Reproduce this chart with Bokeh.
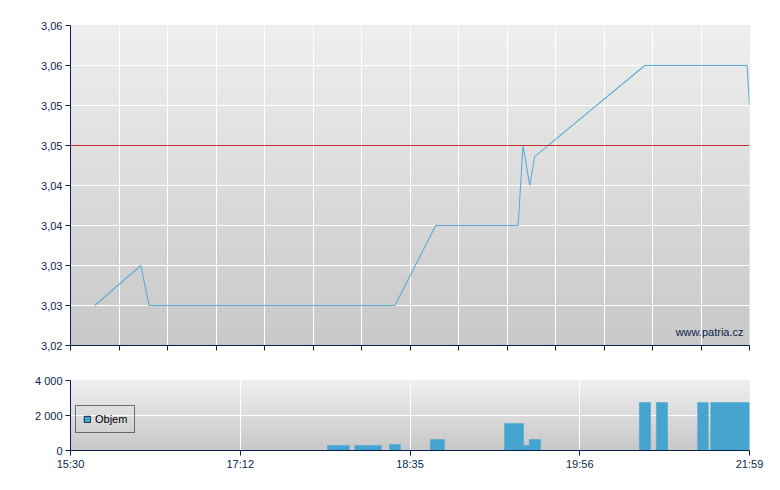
import numpy as np
from bokeh.plotting import figure
from bokeh.layouts import column
from bokeh.models import FixedTicker, Span, Label, Legend, LegendItem, ColumnDataSource
from bokeh.embed import file_html
from bokeh.resources import INLINE

# ---- data (x in axis units: 14 grid divisions across the session) ----
price_x = [0.50, 1.45, 1.62, 6.69, 7.53, 9.23, 9.33, 9.47, 9.57, 11.84, 13.95, 14.0]
price_y = [3.025, 3.030, 3.025, 3.025, 3.035, 3.035, 3.045, 3.040, 3.0436, 3.055, 3.055, 3.050]
prev_close = 3.045

vol_left = [5.30, 5.86, 6.58, 7.42, 8.95, 9.34, 9.46, 11.73, 12.08, 12.93, 13.20]
vol_right = [5.75, 6.41, 6.80, 7.71, 9.34, 9.46, 9.69, 11.96, 12.31, 13.15, 14.00]
vol_value = [290, 290, 340, 630, 1540, 290, 630, 2740, 2740, 2740, 2740]

y_ticks = [3.020, 3.025, 3.030, 3.035, 3.040, 3.045, 3.050, 3.055, 3.060]
y_labels = ["3,02", "3,03", "3,03", "3,04", "3,04", "3,05", "3,05", "3,06", "3,06"]
x_grid = list(range(0, 15))
t_ticks = [0, 3.5, 7, 10.5, 14]
t_labels = ["15:30", "17:12", "18:35", "19:56", "21:59"]
v_ticks = [0, 2000, 4000]
v_labels = ["0", "2 000", "4 000"]

X0, X1 = 0, 14
PY0, PY1 = 3.02, 3.06
VY0, VY1 = 0, 4000

NAVY = "#0b1f4d"
FONT = "Liberation Sans"
LINE_BLUE = "#5aaed2"
BAR_BLUE = "#45a5cf"


def gradient(n=256, top=0xEF, bottom=0xC8):
    vals = np.linspace(bottom, top, n).round().astype(np.uint32)
    rgba = (0xFF << 24) | (vals << 16) | (vals << 8) | vals
    return rgba.reshape(n, 1)


def style(p):
    p.outline_line_color = None
    p.background_fill_color = "#dcdcdc"
    p.border_fill_color = "white"
    for ax in (p.xaxis[0], p.yaxis[0]):
        ax.axis_line_color = NAVY
        ax.major_tick_line_color = NAVY
        ax.minor_tick_line_color = None
        ax.major_tick_out = 5
        ax.major_tick_in = 0
        ax.major_label_text_color = NAVY
        ax.major_label_text_font = FONT
        ax.major_label_text_font_size = "11px"
    p.xgrid.grid_line_color = "white"
    p.ygrid.grid_line_color = "white"
    p.xgrid.grid_line_width = 1
    p.ygrid.grid_line_width = 1


# ---- price chart ----
p1 = figure(frame_width=679, frame_height=320, x_range=(X0, X1), y_range=(PY0, PY1),
            output_backend="svg", toolbar_location=None,
            min_border_left=70, min_border_top=25, min_border_right=23, min_border_bottom=10)
style(p1)
bg1 = p1.image_rgba(image=[gradient()], x=X0, y=PY0, dw=X1 - X0, dh=PY1 - PY0)
bg1.level = "image"
# unlabeled ticks on the time axis: drawn as minor ticks (no labels)
p1.xaxis.ticker = FixedTicker(ticks=[], minor_ticks=x_grid)
p1.xaxis.minor_tick_line_color = NAVY
p1.xaxis.minor_tick_out = 5
p1.xaxis.minor_tick_in = 0
p1.xgrid.ticker = FixedTicker(ticks=x_grid)
p1.yaxis.ticker = FixedTicker(ticks=y_ticks)
p1.yaxis.major_label_overrides = {t: l for t, l in zip(y_ticks, y_labels)}
p1.yaxis.major_label_standoff = 3
p1.add_layout(Span(location=prev_close, dimension="width", line_color="#c83232", line_width=1))
p1.line(price_x, price_y, line_color=LINE_BLUE, line_width=1.1)
p1.add_layout(Label(x=X1, y=PY0, x_units="data", y_units="data", text="www.patria.cz",
                    x_offset=-6, y_offset=14, text_align="right", text_baseline="middle",
                    text_font=FONT, text_font_size="11px", text_color=NAVY))

# ---- volume chart ----
p2 = figure(frame_width=679, frame_height=70, x_range=p1.x_range, y_range=(VY0, VY1),
            output_backend="svg", toolbar_location=None,
            min_border_left=70, min_border_top=25, min_border_right=23, min_border_bottom=10)
style(p2)
bg2 = p2.image_rgba(image=[gradient()], x=X0, y=VY0, dw=X1 - X0, dh=VY1 - VY0)
bg2.level = "image"
p2.xaxis.ticker = FixedTicker(ticks=t_ticks)
p2.xaxis.major_label_overrides = {t: l for t, l in zip(t_ticks, t_labels)}
p2.xaxis.major_label_standoff = 2
p2.yaxis.ticker = FixedTicker(ticks=v_ticks)
p2.yaxis.major_label_overrides = {t: l for t, l in zip(v_ticks, v_labels)}
p2.yaxis.major_label_standoff = 3
src = ColumnDataSource(dict(left=vol_left, right=vol_right, top=vol_value, bottom=[0] * len(vol_value)))
p2.quad(left="left", right="right", top="top", bottom="bottom", source=src,
        fill_color=BAR_BLUE, line_color=BAR_BLUE, line_width=0.5)
# legend proxy (NaN extent: nothing drawn inside the plot)
nan = float("nan")
sw = p2.quad(left=[nan], right=[nan], top=[nan], bottom=[nan],
             fill_color=BAR_BLUE, line_color=NAVY, line_width=1)
leg = Legend(items=[LegendItem(label="Objem", renderers=[sw])], location=(5, 17),
             border_line_color="black", border_line_width=1, background_fill_alpha=0,
             label_text_font=FONT, label_text_font_size="11px", label_text_color="black",
             glyph_width=8, glyph_height=8, label_height=12, padding=7, margin=0,
             label_standoff=4, spacing=0)
p2.add_layout(leg)

layout = column(p1, p2, spacing=0)
open("out.html", "w").write(file_html(layout, INLINE))
